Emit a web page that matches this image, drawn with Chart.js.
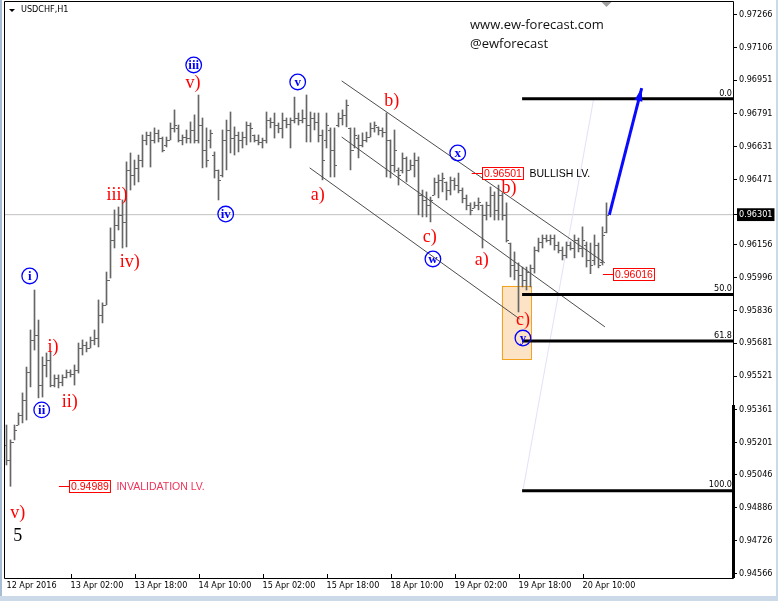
<!DOCTYPE html>
<html>
<head>
<meta charset="utf-8">
<script src="https://cdn.jsdelivr.net/npm/chart.js@4.4.0/dist/chart.umd.min.js"></script>
<style>
  html, body { margin: 0; padding: 0; background: #fff; overflow: hidden; }
</style>
</head>
<body>
<canvas id="usdchfChart" width="778" height="601"></canvas>
<script>
// USDCHF H1 bars (one entry per hour)
const highs = [
  0.95285, 0.95213, 0.95285, 0.95343, 0.95440, 0.95565, 0.95744, 0.95937, 0.95792, 0.95614,
  0.95633, 0.95638, 0.95527, 0.95527, 0.95527, 0.95551, 0.95551, 0.95575, 0.95681, 0.95696,
  0.95686, 0.95710, 0.95744, 0.95889, 0.95875, 0.96024, 0.96237, 0.96324, 0.96338, 0.96372,
  0.96556, 0.96599, 0.96565, 0.96589, 0.96686, 0.96700, 0.96700, 0.96720, 0.96710, 0.96676,
  0.96676, 0.96744, 0.96807, 0.96734, 0.96686, 0.96710, 0.96749, 0.96783, 0.96879, 0.96768,
  0.96720, 0.96710, 0.96604, 0.96517, 0.96710, 0.96758, 0.96797, 0.96725, 0.96700, 0.96700,
  0.96749, 0.96744, 0.96686, 0.96686, 0.96671, 0.96797, 0.96768, 0.96792, 0.96744, 0.96792,
  0.96768, 0.96768, 0.96869, 0.96792, 0.96807, 0.96879, 0.96797, 0.96792, 0.96792, 0.96710,
  0.96792, 0.96720, 0.96720, 0.96792, 0.96807, 0.96855, 0.96720, 0.96720, 0.96686, 0.96696,
  0.96700, 0.96744, 0.96749, 0.96725, 0.96720, 0.96792, 0.96662, 0.96710, 0.96527, 0.96599,
  0.96580, 0.96565, 0.96599, 0.96580, 0.96420, 0.96411, 0.96386, 0.96478, 0.96493, 0.96502,
  0.96459, 0.96483, 0.96478, 0.96502, 0.96430, 0.96396, 0.96358, 0.96362, 0.96382, 0.96348,
  0.96362, 0.96435, 0.96411, 0.96444, 0.96406, 0.96358, 0.96164, 0.96121, 0.96068, 0.96048,
  0.96048, 0.96058, 0.96145, 0.96188, 0.96203, 0.96203, 0.96203, 0.96203, 0.96169, 0.96145,
  0.96169, 0.96169, 0.96203, 0.96188, 0.96242, 0.96169, 0.96164, 0.96203, 0.96164, 0.96242,
  0.96358
];
const lows = [
  0.95092, 0.94989, 0.95213, 0.95285, 0.95295, 0.95309, 0.95469, 0.95647, 0.95416, 0.95420,
  0.95517, 0.95469, 0.95469, 0.95464, 0.95474, 0.95512, 0.95517, 0.95478, 0.95536, 0.95623,
  0.95638, 0.95657, 0.95672, 0.95662, 0.95778, 0.95865, 0.95995, 0.96140, 0.96227, 0.96140,
  0.96145, 0.96420, 0.96444, 0.96459, 0.96531, 0.96638, 0.96531, 0.96647, 0.96652, 0.96604,
  0.96628, 0.96662, 0.96700, 0.96652, 0.96638, 0.96647, 0.96647, 0.96647, 0.96647, 0.96527,
  0.96531, 0.96623, 0.96478, 0.96372, 0.96483, 0.96517, 0.96599, 0.96589, 0.96604, 0.96623,
  0.96638, 0.96652, 0.96652, 0.96638, 0.96623, 0.96647, 0.96720, 0.96671, 0.96696, 0.96671,
  0.96720, 0.96623, 0.96744, 0.96734, 0.96744, 0.96652, 0.96652, 0.96710, 0.96652, 0.96469,
  0.96623, 0.96483, 0.96483, 0.96725, 0.96734, 0.96725, 0.96517, 0.96623, 0.96575, 0.96628,
  0.96652, 0.96676, 0.96700, 0.96686, 0.96676, 0.96483, 0.96478, 0.96507, 0.96444, 0.96502,
  0.96459, 0.96517, 0.96483, 0.96300, 0.96290, 0.96290, 0.96266, 0.96396, 0.96382, 0.96411,
  0.96372, 0.96396, 0.96420, 0.96406, 0.96358, 0.96324, 0.96300, 0.96333, 0.96324, 0.96140,
  0.96275, 0.96290, 0.96275, 0.96275, 0.96275, 0.96169, 0.96000, 0.95986, 0.95831, 0.95952,
  0.95937, 0.95952, 0.96019, 0.96121, 0.96140, 0.96169, 0.96155, 0.96130, 0.96116, 0.96082,
  0.96092, 0.96130, 0.96092, 0.96121, 0.96097, 0.96048, 0.96016, 0.96058, 0.96044, 0.96058,
  0.96213
];
const opens = [
  0.95189, 0.95116, 0.95203, 0.95285, 0.95334, 0.95406, 0.95541, 0.95696, 0.95720, 0.95478,
  0.95575, 0.95599, 0.95478, 0.95512, 0.95493, 0.95517, 0.95541, 0.95532, 0.95551, 0.95657,
  0.95672, 0.95657, 0.95696, 0.95705, 0.95817, 0.95865, 0.95986, 0.96179, 0.96251, 0.96300,
  0.96266, 0.96517, 0.96493, 0.96527, 0.96565, 0.96662, 0.96686, 0.96662, 0.96696, 0.96671,
  0.96638, 0.96662, 0.96720, 0.96720, 0.96662, 0.96676, 0.96671, 0.96710, 0.96662, 0.96734,
  0.96613, 0.96662, 0.96589, 0.96517, 0.96493, 0.96662, 0.96710, 0.96671, 0.96686, 0.96662,
  0.96676, 0.96734, 0.96686, 0.96662, 0.96652, 0.96662, 0.96758, 0.96749, 0.96734, 0.96720,
  0.96758, 0.96739, 0.96758, 0.96768, 0.96758, 0.96768, 0.96734, 0.96768, 0.96749, 0.96686,
  0.96662, 0.96710, 0.96613, 0.96734, 0.96768, 0.96783, 0.96720, 0.96613, 0.96671, 0.96638,
  0.96662, 0.96676, 0.96720, 0.96725, 0.96710, 0.96700, 0.96662, 0.96541, 0.96517, 0.96517,
  0.96575, 0.96517, 0.96541, 0.96565, 0.96396, 0.96372, 0.96348, 0.96396, 0.96459, 0.96469,
  0.96459, 0.96420, 0.96469, 0.96444, 0.96420, 0.96382, 0.96348, 0.96333, 0.96348, 0.96348,
  0.96300, 0.96348, 0.96396, 0.96324, 0.96396, 0.96300, 0.96164, 0.96058, 0.96034, 0.96010,
  0.95986, 0.96024, 0.96044, 0.96131, 0.96169, 0.96188, 0.96179, 0.96188, 0.96155, 0.96131,
  0.96106, 0.96155, 0.96140, 0.96179, 0.96140, 0.96155, 0.96082, 0.96082, 0.96155, 0.96073,
  0.96218
];
const closes = [
  0.95116, 0.95203, 0.95261, 0.95334, 0.95406, 0.95541, 0.95696, 0.95720, 0.95478, 0.95575,
  0.95599, 0.95478, 0.95512, 0.95493, 0.95517, 0.95541, 0.95532, 0.95551, 0.95657, 0.95672,
  0.95657, 0.95696, 0.95705, 0.95817, 0.95865, 0.95986, 0.96179, 0.96251, 0.96300, 0.96266,
  0.96517, 0.96493, 0.96527, 0.96565, 0.96662, 0.96686, 0.96662, 0.96696, 0.96671, 0.96613,
  0.96662, 0.96720, 0.96734, 0.96662, 0.96676, 0.96671, 0.96710, 0.96662, 0.96734, 0.96613,
  0.96565, 0.96696, 0.96517, 0.96469, 0.96662, 0.96710, 0.96671, 0.96686, 0.96662, 0.96676,
  0.96734, 0.96720, 0.96662, 0.96652, 0.96662, 0.96758, 0.96749, 0.96734, 0.96720, 0.96758,
  0.96739, 0.96758, 0.96768, 0.96758, 0.96768, 0.96734, 0.96768, 0.96749, 0.96686, 0.96565,
  0.96734, 0.96613, 0.96541, 0.96768, 0.96783, 0.96831, 0.96613, 0.96686, 0.96638, 0.96662,
  0.96676, 0.96720, 0.96734, 0.96710, 0.96700, 0.96662, 0.96541, 0.96613, 0.96493, 0.96575,
  0.96517, 0.96541, 0.96565, 0.96396, 0.96372, 0.96348, 0.96372, 0.96459, 0.96469, 0.96478,
  0.96420, 0.96469, 0.96444, 0.96420, 0.96382, 0.96348, 0.96324, 0.96348, 0.96362, 0.96300,
  0.96348, 0.96396, 0.96324, 0.96396, 0.96300, 0.96179, 0.96058, 0.96034, 0.96010, 0.95986,
  0.96024, 0.96044, 0.96131, 0.96169, 0.96188, 0.96179, 0.96188, 0.96155, 0.96131, 0.96106,
  0.96155, 0.96140, 0.96179, 0.96140, 0.96179, 0.96082, 0.96058, 0.96155, 0.96058, 0.96203,
  0.96301
];

// axis labels as shown by the terminal
const timeLabels = ['12 Apr 2016', '13 Apr 02:00', '13 Apr 18:00', '14 Apr 10:00', '15 Apr 02:00',
  '15 Apr 18:00', '18 Apr 10:00', '19 Apr 02:00', '19 Apr 18:00', '20 Apr 10:00'];
const timeLabelBars = [0, 16, 32, 48, 64, 80, 96, 112, 128, 144];
const priceTicks = [0.97266, 0.97106, 0.96951, 0.96791, 0.96631, 0.96471, 0.96301, 0.96156, 0.95996,
  0.95836, 0.95681, 0.95521, 0.95361, 0.95201, 0.95046, 0.94886, 0.94726, 0.94566];
const lastPrice = 0.96301;

// fibonacci retracement (100 = low, 0 = high)
const fibNames = ['0.0', '50.0', '61.8', '100.0'];
const fibPrices = [0.96861, 0.95915, 0.95691, 0.94968];
const fibStartBar = 128.9;

// channel lines [bar, price] -> [bar, price]
const channelUpper = [[83.8, 0.96947], [149.6, 0.96068]];
const channelMiddle = [[83.8, 0.96676], [149.6, 0.95759]];
const channelLower = [[75.8, 0.96527], [128.3, 0.95797]];
const fibDiagonal = [[129.1, 0.94968], [146.8, 0.96861]];
const forecastArrow = [[150.7, 0.96300], [158.8, 0.96912]];
const targetZone = { from: 123.8, to: 131.1, top: 0.95957, bottom: 0.95604 };

// wave counts
const redWaves = [
  ['v)', 46.6, 0.96937], ['iii)', 27.6, 0.96396], ['iv)', 30.8, 0.96073], ['i)', 11.6, 0.95662],
  ['ii)', 15.8, 0.95396], ['v)', 2.8, 0.94860], ['a)', 77.8, 0.96396], ['b)', 96.3, 0.96850],
  ['c)', 105.8, 0.96193], ['a)', 118.8, 0.96082], ['b)', 125.6, 0.96430], ['c)', 129.1, 0.95792]
];
const blueWaves = [
  ['iii', 46.8, 0.97024], ['v', 72.8, 0.96942], ['iv', 54.8, 0.96304], ['i', 5.8, 0.96005],
  ['ii', 8.8, 0.95358], ['x', 112.8, 0.96599], ['w', 106.6, 0.96087], ['y', 129.1, 0.95705]
];
const levelTags = [
  { price: 0.96501, lineFrom: 116.3, boxAt: 118.8, note: 'BULLISH LV.', noteColor: '#000' },
  { price: 0.96016, lineFrom: 149.1, boxAt: 151.6, note: '', noteColor: '#000' },
  { price: 0.94989, lineFrom: 13.1, boxAt: 15.6, note: 'INVALIDATION LV.', noteColor: '#f0325a' }
];

const SMALL = '"DejaVu Sans Condensed", "Liberation Sans", sans-serif';
const SERIF = '"Liberation Serif", "DejaVu Serif", serif';
const pts = arr => arr.map(p => ({ x: p[0], y: p[1] }));

const ohlcBars = highs.map((h, i) => ({ x: i, y: [lows[i], h] }));

const terminalLook = {
  id: 'terminalLook',
  beforeDraw(c) {
    const g = c.ctx;
    g.save();
    g.fillStyle = '#fff';
    g.fillRect(0, 0, c.width, c.height);
    g.restore();
  },
  beforeDatasetsDraw(c) {
    const g = c.ctx, xs = c.scales.x, ys = c.scales.y;
    const x1 = xs.getPixelForValue(targetZone.from), x2 = xs.getPixelForValue(targetZone.to);
    const y1 = ys.getPixelForValue(targetZone.top), y2 = ys.getPixelForValue(targetZone.bottom);
    g.save();
    g.fillStyle = '#fde3c6';
    g.fillRect(x1, y1, x2 - x1, y2 - y1);
    g.strokeStyle = '#f5a21c';
    g.lineWidth = 1;
    g.strokeRect(Math.round(x1) + 0.5, Math.round(y1) + 0.5, Math.round(x2 - x1), Math.round(y2 - y1));
    g.restore();
  },
  afterDatasetsDraw(c) {
    const g = c.ctx, xs = c.scales.x, ys = c.scales.y;
    g.save();
    // open / close ticks
    g.fillStyle = '#666';
    highs.forEach((h, i) => {
      const x = xs.getPixelForValue(i);
      g.fillRect(x - 2.5, Math.round(ys.getPixelForValue(opens[i])), 2, 1);
      g.fillRect(x + 0.5, Math.round(ys.getPixelForValue(closes[i])), 2, 1);
    });
    // arrow head
    const a = forecastArrow;
    const ax = xs.getPixelForValue(a[1][0]), ay = ys.getPixelForValue(a[1][1]);
    const bx = xs.getPixelForValue(a[0][0]), by = ys.getPixelForValue(a[0][1]);
    const ang = Math.atan2(ay - by, ax - bx);
    g.fillStyle = '#0a0aff';
    g.beginPath();
    g.moveTo(ax, ay);
    g.lineTo(ax - 13 * Math.cos(ang) + 4 * Math.sin(ang), ay - 13 * Math.sin(ang) - 4 * Math.cos(ang));
    g.lineTo(ax - 13 * Math.cos(ang) - 4 * Math.sin(ang), ay - 13 * Math.sin(ang) + 4 * Math.cos(ang));
    g.closePath();
    g.fill();
    g.restore();
  },
  afterDraw(c) {
    const g = c.ctx, xs = c.scales.x, ys = c.scales.y, area = c.chartArea;
    g.save();
    // frame
    g.strokeStyle = '#000';
    g.lineWidth = 1;
    g.beginPath();
    g.moveTo(4.5, area.bottom + 0.5); g.lineTo(4.5, 1.5); g.lineTo(area.right + 0.5, 1.5);
    g.lineTo(area.right + 0.5, area.bottom + 0.5); g.lineTo(4.5, area.bottom + 0.5);
    g.stroke();
    g.fillStyle = '#000';
    g.fillRect(area.right - 1, 405, 3, area.bottom - 405);
    // x tick marks pointing in
    timeLabelBars.forEach(b => {
      if (b === 0) return;
      const x = Math.round(xs.getPixelForValue(b)) + 0.5;
      g.beginPath(); g.moveTo(x, area.bottom - 4); g.lineTo(x, area.bottom); g.stroke();
    });
    // window edges
    g.fillStyle = '#a8bcd3';
    g.fillRect(0, 0, 2, c.height);
    g.fillStyle = '#cbd9e9';
    g.fillRect(0, 596, c.width, 5);
    g.fillRect(776, 0, 2, c.height);
    // shift marker
    g.fillStyle = '#a0a0a0';
    const sx = xs.getPixelForValue(150);
    g.beginPath(); g.moveTo(sx - 5, 2); g.lineTo(sx + 5, 2); g.lineTo(sx, 7); g.closePath(); g.fill();

    // header texts
    g.fillStyle = '#000';
    g.beginPath(); g.moveTo(9, 9); g.lineTo(15, 9); g.lineTo(12, 12); g.closePath(); g.fill();
    g.font = '9px ' + SMALL;
    g.textBaseline = 'middle';
    g.textAlign = 'left';
    g.fillText('USDCHF,H1', 21, 10);
    g.fillStyle = '#111';
    g.font = '13px "Open Sans", "Noto Sans", sans-serif';
    g.fillText('www.ew-forecast.com', 470, 25);
    g.fillText('@ewforecast', 470, 44);

    // fib level names
    g.fillStyle = '#000';
    g.font = '9px ' + SMALL;
    g.textAlign = 'right';
    g.textBaseline = 'bottom';
    fibNames.forEach((n, k) => g.fillText(n, area.right - 1, ys.getPixelForValue(fibPrices[k]) - 1));

    // level tags
    g.textBaseline = 'middle';
    levelTags.forEach(t => {
      const y = Math.round(ys.getPixelForValue(t.price)) + 0.5;
      const x0 = xs.getPixelForValue(t.lineFrom), x1 = Math.round(xs.getPixelForValue(t.boxAt)) + 0.5;
      g.strokeStyle = '#ff0000';
      g.beginPath(); g.moveTo(x0, y); g.lineTo(x1, y); g.stroke();
      g.font = '10.5px "Liberation Sans", sans-serif';
      const txt = t.price.toFixed(5);
      const w = g.measureText(txt).width + 3;
      g.fillStyle = '#fff';
      g.fillRect(x1, y - 6, w, 12);
      g.strokeRect(x1, y - 6, w, 12);
      g.fillStyle = '#ff0000';
      g.textAlign = 'left';
      g.fillText(txt, x1 + 1.5, y + 0.5);
      if (t.note) {
        g.fillStyle = t.noteColor;
        g.fillText(t.note, x1 + w + 6, y + 0.5);
      }
    });

    // red wave labels
    g.textAlign = 'center';
    g.fillStyle = '#ff0000';
    g.font = '18px ' + SERIF;
    redWaves.forEach(w => g.fillText(w[0], xs.getPixelForValue(w[1]), ys.getPixelForValue(w[2])));
    g.fillStyle = '#000';
    g.fillText('5', xs.getPixelForValue(2.8), ys.getPixelForValue(0.94749));

    // blue circled wave labels
    blueWaves.forEach(w => {
      const x = xs.getPixelForValue(w[1]), y = ys.getPixelForValue(w[2]);
      g.strokeStyle = '#0000ff';
      g.lineWidth = 1.3;
      g.beginPath(); g.arc(x, y, 7.8, 0, Math.PI * 2); g.stroke();
      g.fillStyle = '#0000ff';
      g.font = 'bold 13px ' + SERIF;
      g.fillText(w[0], x, y + 0.5);
    });
    g.restore();
  }
};

const lineSet = (data, color, width, order) => ({
  type: 'line', data: pts(data), borderColor: color, borderWidth: width,
  pointRadius: 0, fill: false, tension: 0, order: order
});

const xMin = -0.375, xMax = 181.625;

new Chart(document.getElementById('usdchfChart'), {
  type: 'bar',
  data: {
    datasets: [
      lineSet([[xMin, lastPrice], [xMax, lastPrice]], '#c0c0c0', 1, 9),
      lineSet(fibDiagonal, '#e2e2f8', 1, 8),
      {
        type: 'bar', data: ohlcBars, backgroundColor: '#666', borderWidth: 0,
        barThickness: 1, order: 5
      },
      lineSet(channelUpper, '#4d4d4d', 1, 3),
      lineSet(channelMiddle, '#4d4d4d', 1, 3),
      lineSet(channelLower, '#4d4d4d', 1, 3),
      ...fibPrices.map(p => lineSet([[fibStartBar, p], [xMax, p]], '#000', 3, 2)),
      lineSet(forecastArrow, '#0a0aff', 3, 1)
    ]
  },
  options: {
    responsive: false,
    animation: false,
    layout: { padding: { left: 5, top: 1, right: 0, bottom: 0 } },
    plugins: { legend: { display: false }, tooltip: { enabled: false } },
    scales: {
      x: {
        type: 'linear', min: xMin, max: xMax, offset: false,
        grid: { display: false, drawTicks: false }, border: { display: false },
        afterBuildTicks: s => { s.ticks = timeLabelBars.map(v => ({ value: v })); },
        afterFit: s => { s.height = 23; s.paddingLeft = 0; s.paddingRight = 0; },
        ticks: {
          autoSkip: false, maxRotation: 0, align: 'start', padding: 2, color: '#000',
          font: { family: SMALL, size: 9 },
          callback: (v, i) => timeLabels[i]
        }
      },
      y: {
        type: 'linear', position: 'right', min: 0.94546, max: 0.97333,
        grid: { drawOnChartArea: false, drawTicks: true, tickLength: 4, color: '#000' },
        border: { display: false },
        afterBuildTicks: s => { s.ticks = priceTicks.map(v => ({ value: v })); },
        afterFit: s => { s.width = 45; s.paddingTop = 0; s.paddingBottom = 0; },
        ticks: {
          padding: 2,
          font: { family: SMALL, size: 9 },
          color: ctx => (ctx.tick && ctx.tick.value === lastPrice) ? '#fff' : '#000',
          showLabelBackdrop: ctx => !!(ctx.tick && ctx.tick.value === lastPrice),
          backdropColor: '#000',
          backdropPadding: { x: 2, y: 1 },
          callback: v => v.toFixed(5)
        }
      }
    }
  },
  plugins: [terminalLook]
});
</script>
</body>
</html>
